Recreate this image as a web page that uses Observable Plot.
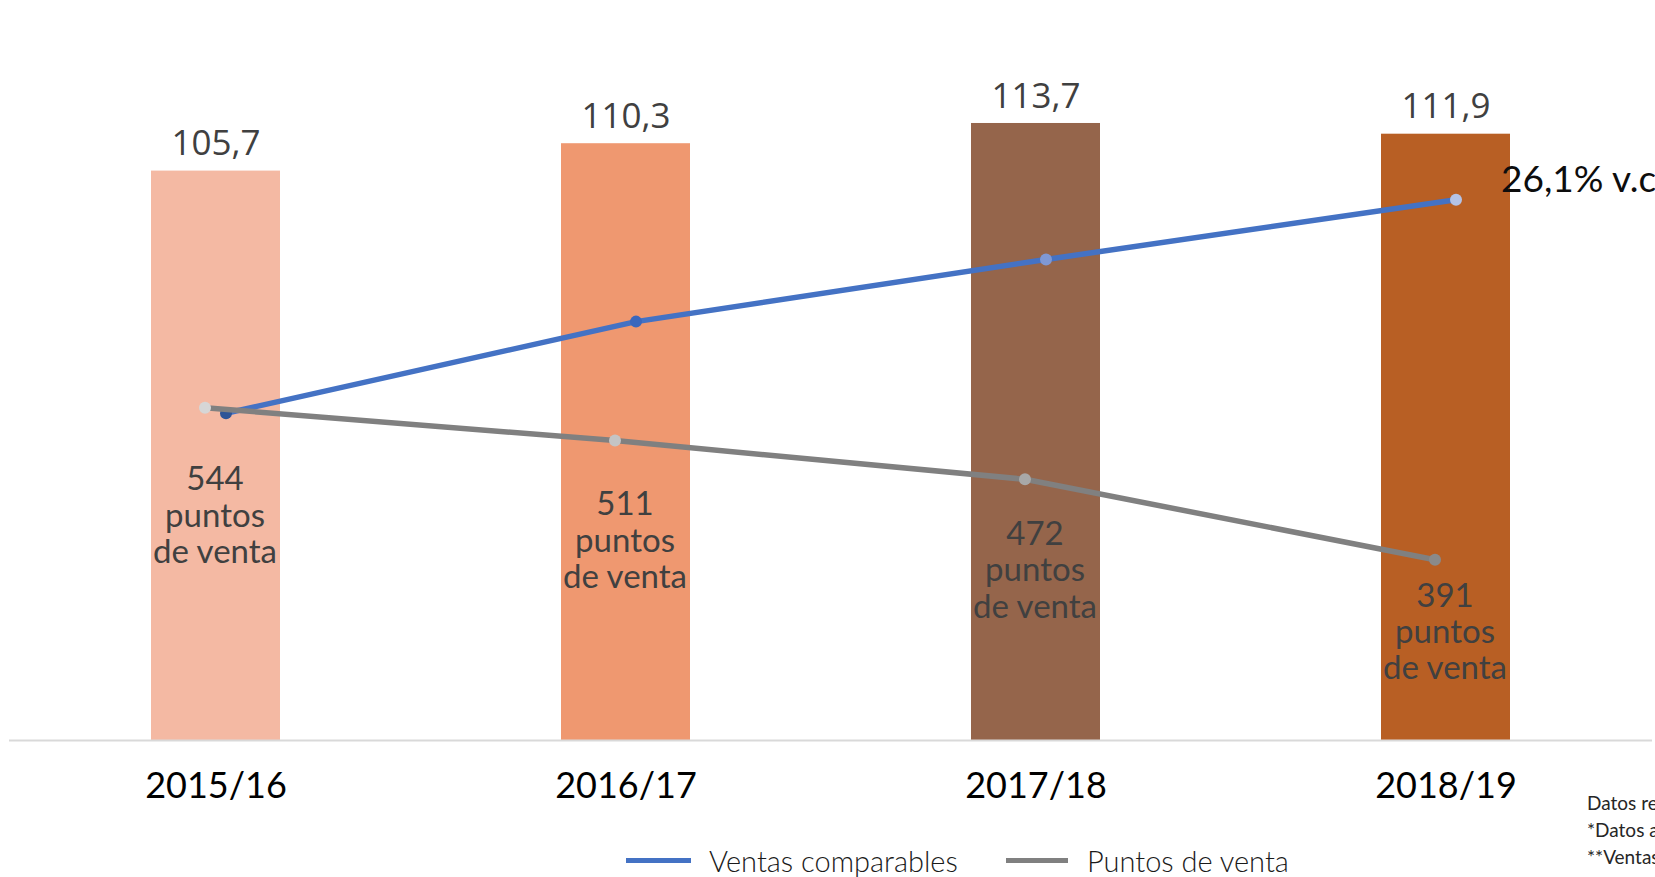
<!DOCTYPE html>
<html><head><meta charset="utf-8">
<script src="https://cdn.jsdelivr.net/npm/d3@7"></script>
<script src="https://cdn.jsdelivr.net/npm/@observablehq/plot@0.6"></script>
<style>
html,body{margin:0;padding:0;background:#fff;overflow:hidden;width:1655px;height:877px;}
#wrap{position:relative;width:1655px;height:877px;overflow:hidden;}
#chart svg{display:block;}
.legend{position:absolute;left:0;top:830px;width:1655px;height:47px;font-family:Lato,sans-serif;font-weight:300;font-size:29px;color:#1a1a1a;}
.legend .sw{position:absolute;top:28px;height:5px;}
.legend .lb{position:absolute;top:16px;line-height:30px;white-space:nowrap;}
.notes{position:absolute;left:1587px;top:789px;font-family:Lato,sans-serif;font-size:19px;line-height:27px;color:#262626;white-space:nowrap;}
</style>
</head><body>
<div id="wrap">
  <div id="chart"></div>
  <div class="legend" id="legend"></div>
  <div class="notes" id="notes"></div>
</div>
<script>
// ---- data ----
const years = ["2015/16", "2016/17", "2017/18", "2018/19"];
const salesIndex = [105.7, 110.3, 113.7, 111.9];          // bars
const comparableSales = [0, 11.2, 18.8, 26.1];            // blue line (%)
const storeCounts = [544, 511, 472, 391];                 // grey line
const seriesNames = ["Ventas comparables", "Puntos de venta"];
const notes = ["Datos referidos a ejercicios fiscales", "*Datos a cierre de cada ejercicio", "**Ventas comparables acumuladas"];

// ---- styles ----
const barColors = ["#F4B9A3", "#EF9870", "#95654B", "#B85F24"];
const blueDotColors = ["#2F5597", "#3A67BD", "#7F98D4", "#B4C3E6"];
const greyDotColors = ["#D6D6D6", "#C4C4C4", "#A8A8A8", "#8A8A8A"];
const blue = "#4472C4", grey = "#808080";

// primary axis and the two secondary axes mapped onto it
const yMin = 10, yMax = 120;
const blueToY = d3.scaleLinear().domain([-40, 40]).range([yMin, yMax]);
const greyToY = d3.scaleLinear().domain([209, 868]).range([yMin, yMax]);
const labelToY = d3.scaleLinear().domain([391, 544]).range([28.32, 47.9]);

const rows = years.map((year, i) => ({year, i, index: salesIndex[i], comp: comparableSales[i], stores: storeCounts[i]}));
const fmt = v => d3.format(".1f")(v).replace(".", ",");

const chart = Plot.plot({
  width: 1655, height: 850,
  marginTop: 85.5, marginBottom: 110, marginLeft: 9, marginRight: 3,
  style: {color: "#000", background: "transparent"},
  x: {type: "band", domain: years, paddingInner: 0.686, paddingOuter: 0.343, axis: null},
  y: {domain: [yMin, yMax], axis: null},
  color: {type: "identity"},
  marks: [
    Plot.barY(rows, {x: "year", y1: yMin, y2: "index", fill: d => barColors[d.i]}),
    Plot.ruleY([yMin], {stroke: "#D9D9D9", strokeWidth: 2}),
    Plot.axisX({tickSize: 0, tickPadding: 32, fontSize: 36, fontFamily: "Lato", fill: "#000", label: null}),
    Plot.text(rows, {x: "year", y: "index", text: d => fmt(d.index), dy: -27, fontSize: 35, fontFamily: "Open Sans", fill: "#404040"}),
    Plot.line(rows, {x: "year", y: d => blueToY(d.comp), stroke: blue, strokeWidth: 5.5, dx: 10}),
    Plot.dot(rows, {x: "year", y: d => blueToY(d.comp), r: 6, fill: d => blueDotColors[d.i], dx: 10}),
    Plot.line(rows, {x: "year", y: d => greyToY(d.stores), stroke: grey, strokeWidth: 5.5, dx: -11}),
    Plot.dot(rows, {x: "year", y: d => greyToY(d.stores), r: 6, fill: d => greyDotColors[d.i], dx: -11}),
    Plot.text(rows, {x: "year", y: d => labelToY(d.stores), text: d => `${d.stores}\npuntos\nde venta`, lineHeight: 1.1, fontSize: 33, fontFamily: "Lato", fill: "#404040", dx: -1}),
    Plot.text(rows.slice(-1), {x: "year", y: d => blueToY(d.comp), text: d => `${fmt(d.comp)}% v.c.`, textAnchor: "start", dx: 55, dy: -20, fontSize: 37, fontFamily: "Lato", fill: "#0D0D0D"})
  ]
});
document.getElementById("chart").appendChild(chart);

// legend
const lg = document.getElementById("legend");
const legendItems = [
  {name: seriesNames[0], color: blue, sw: 626, swW: 65, tx: 709},
  {name: seriesNames[1], color: grey, sw: 1006, swW: 62, tx: 1087}
];
for (const it of legendItems) {
  const s = document.createElement("span"); s.className = "sw";
  s.style.left = it.sw + "px"; s.style.width = it.swW + "px"; s.style.background = it.color;
  const t = document.createElement("span"); t.className = "lb";
  t.style.left = it.tx + "px"; t.textContent = it.name;
  lg.appendChild(s); lg.appendChild(t);
}
// notes
const nt = document.getElementById("notes");
notes.forEach(n => { const d = document.createElement("div"); d.textContent = n; nt.appendChild(d); });
</script>
</body></html>
